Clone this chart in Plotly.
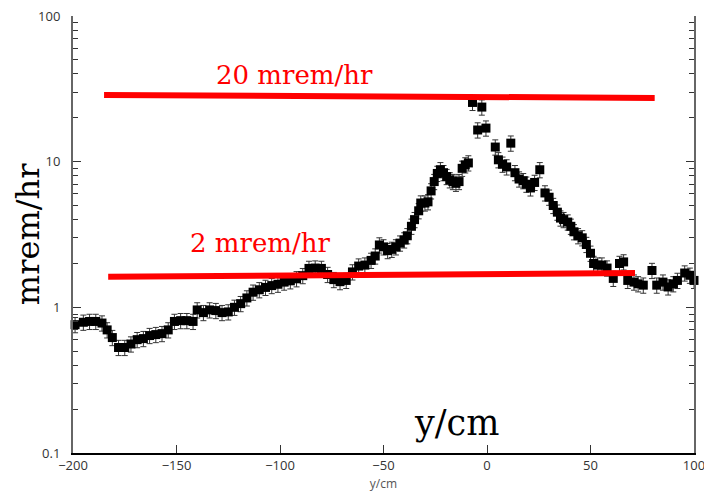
import plotly.graph_objects as go

# data points (position in cm, dose rate in mrem/hr)
pos_cm = [-199, -195, -192, -189, -186, -183.5, -181, -178, -175, -172, -169, -166, -163, -160,
          -157, -154, -151, -148, -145, -142, -140, -137, -134, -131, -128, -125, -122, -119,
          -116, -113, -110, -107, -104, -101, -98, -95, -92, -89, -86, -83, -80, -77, -74, -71,
          -68, -65, -62, -59, -56, -54, -52, -50, -48, -46, -44, -42, -40, -38.5, -36.5, -35,
          -33, -32, -30, -28.5, -27, -25.5, -24, -22.5, -21, -19.5, -18, -16.5, -15, -13.5,
          -12, -10.5, -9, -7, -4.5, -2.5, -0.5, 4, 5.5, 7.5, 9.5, 11.5, 13.5, 15.5, 17.5, 19,
          21, 23, 25.5, 28, 30, 32, 34, 35.5, 37, 39, 40.5, 42, 44, 46, 48, 50, 51.5, 53.5,
          55.5, 58, 61, 64, 66, 68, 71, 73, 75.5, 79.7, 82, 85, 87.5, 90, 92, 95.5, 98, 100]
dose = [0.76, 0.79, 0.80, 0.80, 0.78, 0.70, 0.62, 0.53, 0.53, 0.56, 0.60, 0.61, 0.64, 0.65,
        0.66, 0.70, 0.80, 0.81, 0.81, 0.80, 0.96, 0.92, 0.96, 0.95, 0.92, 0.93, 1.0, 1.06,
        1.16, 1.27, 1.32, 1.37, 1.41, 1.44, 1.49, 1.52, 1.57, 1.65, 1.85, 1.86, 1.85, 1.68,
        1.55, 1.50, 1.53, 1.75, 1.92, 1.95, 2.1, 2.25, 2.68, 2.6, 2.45, 2.5, 2.6, 2.76, 2.9,
        3.1, 3.6, 4.0, 4.6, 5.2, 5.2, 5.3, 6.3, 7.3, 8.3, 8.8, 8.4, 7.9, 7.5, 7.3, 7.1, 7.3,
        9.0, 9.5, 9.8, 25.5, 16.5, 23.7, 17.0, 12.6, 10.3, 9.6, 9.2, 13.4, 8.4, 7.6, 7.4, 7.0,
        6.6, 7.2, 8.8, 6.1, 5.7, 5.0, 4.5, 4.1, 4.0, 3.85, 3.6, 3.3, 3.1, 3.0, 2.7, 2.35, 2.0,
        1.95, 1.95, 1.86, 1.58, 2.0, 2.05, 1.53, 1.49, 1.45, 1.42, 1.79, 1.42, 1.49, 1.38,
        1.45, 1.53, 1.72, 1.66, 1.53]
err_pct = 12

# reference lines
line20_x = [-185, 81]
line20_y = [28.7, 27.4]
line2_x = [-183, 71.5]
line2_y = [1.62, 1.72]
line20_label = "20 mrem/hr"
line2_label = "2 mrem/hr"

x_ticks = [-200, -150, -100, -50, 0, 50, 100]
y_ticks = [0.1, 1, 10, 100]
y_tick_text = ["0.1", "1", "10", "100"]

fig = go.Figure()
fig.add_trace(go.Scatter(
    x=pos_cm, y=dose, mode="markers",
    marker=dict(symbol="square", size=9, color="black"),
    error_y=dict(type="percent", value=err_pct, color="#333", thickness=1, width=3),
    showlegend=False, cliponaxis=False))
fig.add_trace(go.Scatter(x=line20_x, y=line20_y, mode="lines",
                         line=dict(color="#ff0000", width=6), showlegend=False))
fig.add_trace(go.Scatter(x=line2_x, y=line2_y, mode="lines",
                         line=dict(color="#ff0000", width=6), showlegend=False))

fig.update_layout(
    width=712, height=501,
    margin=dict(l=65, r=26, t=8, b=56, autoexpand=False),
    plot_bgcolor="white", paper_bgcolor="white",
    font=dict(family="Open Sans", size=13, color="#333"),
    xaxis=dict(range=[-200, 100], tickvals=x_ticks, ticks="inside", ticklen=8,
               tickcolor="#333", showline=True, linecolor="black", linewidth=1.5,
               showgrid=False, zeroline=False, automargin=False,
               ticklabeloverflow="allow",
               title=dict(text="y/cm", font=dict(size=12, color="#555"), standoff=6)),
    yaxis=dict(type="log", range=[-1, 2], tickvals=y_ticks, ticktext=y_tick_text,
               ticks="inside", ticklen=8, tickcolor="#333", automargin=False,
               ticklabelstandoff=8, ticklabeloverflow="allow",
               showline=True, linecolor="#666", linewidth=2, mirror="allticks",
               showgrid=False, zeroline=False,
               minor=dict(ticks="inside", ticklen=5, tickcolor="#333", dtick="D1")),
)

# annotation y values are log10 of the data value (log axis)
fig.add_annotation(x=-93, y=1.595, text=line20_label, showarrow=False,
                   font=dict(family="DejaVu Serif", size=26, color="#ff0000"))
fig.add_annotation(x=-109.5, y=0.442, text=line2_label, showarrow=False,
                   font=dict(family="DejaVu Serif", size=26, color="#ff0000"))
fig.add_annotation(x=-14.5, y=-0.794, text="y/cm", showarrow=False,
                   font=dict(family="DejaVu Serif", size=35, color="black"))
fig.add_annotation(x=-0.073, y=0.5, xref="paper", yref="paper", text="mrem/hr",
                   xanchor="center", yanchor="middle", borderpad=0,
                   showarrow=False, textangle=-90,
                   font=dict(family="DejaVu Serif", size=32, color="black"))

fig.write_html("out.html")
